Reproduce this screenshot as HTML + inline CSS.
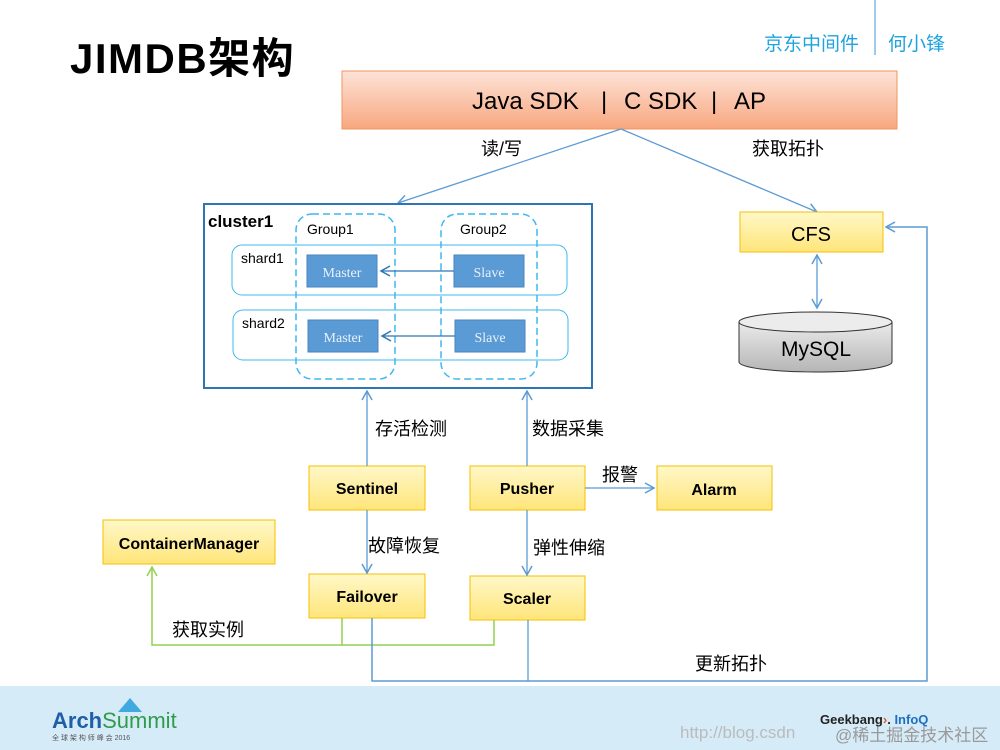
<!DOCTYPE html>
<html><head><meta charset="utf-8"><style>
html,body{margin:0;padding:0;background:#fff;}
svg{display:block;}
text{font-family:"Liberation Sans","Noto Sans CJK SC",sans-serif;}
</style></head><body>
<svg width="1000" height="750" viewBox="0 0 1000 750" xmlns="http://www.w3.org/2000/svg">
<defs>
<linearGradient id="og" x1="0" y1="0" x2="0" y2="1"><stop offset="0" stop-color="#fde3d8"/><stop offset="1" stop-color="#f8a77f"/></linearGradient>
<linearGradient id="yg" x1="0" y1="0" x2="0" y2="1"><stop offset="0" stop-color="#fff8c8"/><stop offset="1" stop-color="#ffe57a"/></linearGradient>
<linearGradient id="gg" x1="0" y1="0" x2="0" y2="1"><stop offset="0" stop-color="#ebebeb"/><stop offset="1" stop-color="#b5b5b5"/></linearGradient>
<marker id="ab" markerWidth="12" markerHeight="12" refX="10" refY="6" orient="auto" markerUnits="userSpaceOnUse"><path d="M1,1 L10,6 L1,11" fill="none" stroke="#5b9bd5" stroke-width="1.5"/></marker>
<marker id="ab2" markerWidth="12" markerHeight="12" refX="10" refY="6" orient="auto" markerUnits="userSpaceOnUse"><path d="M1,1 L10,6 L1,11" fill="none" stroke="#2e75b6" stroke-width="1.5"/></marker>
<marker id="abs" markerWidth="12" markerHeight="12" refX="2" refY="6" orient="auto" markerUnits="userSpaceOnUse"><path d="M11,1 L2,6 L11,11" fill="none" stroke="#5b9bd5" stroke-width="1.5"/></marker>
<marker id="ag" markerWidth="12" markerHeight="12" refX="10" refY="6" orient="auto" markerUnits="userSpaceOnUse"><path d="M1,1 L10,6 L1,11" fill="none" stroke="#92d050" stroke-width="1.5"/></marker>
</defs>

<!-- footer -->
<rect x="0" y="686" width="1000" height="64" fill="#d6ebf8"/>
<text x="52" y="728" font-size="22" font-weight="bold" fill="#1f5fa8">Arch<tspan fill="#2e9c4a" font-weight="normal">Summit</tspan></text>
<path d="M118,712 L130,698 L142,712 Z" fill="#3fa9e0"/>
<text x="52" y="740" font-size="7" fill="#555">全 球 架 构 师 峰 会 2016</text>
<text x="820" y="724" font-size="13" font-weight="bold" fill="#222">Geekbang<tspan fill="#e05a1c">›</tspan>. <tspan fill="#1f6fc0">InfoQ</tspan></text>
<text x="680" y="738" font-size="17" fill="#bbb" font-family="Liberation Mono,monospace">http://blog.csdn</text>
<text x="835" y="741" font-size="17" fill="#999">@稀土掘金技术社区</text>

<!-- title -->
<text x="70" y="73" font-size="42" font-weight="bold" fill="#000" letter-spacing="1.5">JIMDB架构</text>
<text x="764" y="50" font-size="19" fill="#1fa3e0">京东中间件</text>
<line x1="875" y1="0" x2="875" y2="55" stroke="#7fb8e0" stroke-width="1.5"/>
<text x="888" y="50" font-size="19" fill="#1fa3e0">何小锋</text>

<!-- SDK box -->
<rect x="342" y="71" width="555" height="58" fill="url(#og)" stroke="#f0955e" stroke-width="1"/>
<text x="472" y="109" font-size="24" fill="#000">Java SDK</text>
<text x="601" y="109" font-size="24" fill="#000">|</text>
<text x="624" y="109" font-size="24" fill="#000">C SDK</text>
<text x="711" y="109" font-size="24" fill="#000">|</text>
<text x="734" y="109" font-size="24" fill="#000">AP</text>

<line x1="621" y1="129" x2="398" y2="203" stroke="#5b9bd5" stroke-width="1.3" marker-end="url(#ab)"/>
<line x1="621" y1="129" x2="817" y2="212" stroke="#5b9bd5" stroke-width="1.3" marker-end="url(#ab)"/>
<text x="481" y="155" font-size="18">读/写</text>
<text x="752" y="155" font-size="18">获取拓扑</text>

<!-- cluster -->
<rect x="204" y="204" width="388" height="184" fill="#fff" stroke="#2e75b6" stroke-width="2"/>
<text x="208" y="227" font-size="17" font-weight="bold">cluster1</text>
<rect x="232" y="245" width="335" height="50" rx="10" fill="none" stroke="#3fb8ef" stroke-width="1"/>
<rect x="233" y="310" width="335" height="50" rx="10" fill="none" stroke="#3fb8ef" stroke-width="1"/>
<rect x="296" y="214" width="99" height="165" rx="16" fill="none" stroke="#3fb8ef" stroke-width="1.5" stroke-dasharray="7,4"/>
<rect x="441" y="214" width="96" height="165" rx="16" fill="none" stroke="#3fb8ef" stroke-width="1.5" stroke-dasharray="7,4"/>
<text x="307" y="234" font-size="14">Group1</text>
<text x="460" y="234" font-size="14">Group2</text>
<text x="241" y="263" font-size="14">shard1</text>
<text x="242" y="328" font-size="14">shard2</text>
<g font-size="14" fill="#e8f1fb" text-anchor="middle">
<rect x="307" y="255" width="70" height="32" fill="#5b9bd5" stroke="#4a86c0"/><text x="342" y="277" style="font-family:'Liberation Serif',serif">Master</text>
<rect x="454" y="255" width="70" height="32" fill="#5b9bd5" stroke="#4a86c0"/><text x="489" y="277" style="font-family:'Liberation Serif',serif">Slave</text>
<rect x="308" y="320" width="70" height="32" fill="#5b9bd5" stroke="#4a86c0"/><text x="343" y="342" style="font-family:'Liberation Serif',serif">Master</text>
<rect x="455" y="320" width="70" height="32" fill="#5b9bd5" stroke="#4a86c0"/><text x="490" y="342" style="font-family:'Liberation Serif',serif">Slave</text>
</g>
<line x1="454" y1="271" x2="381" y2="271" stroke="#2e75b6" stroke-width="1.3" marker-end="url(#ab2)"/>
<line x1="455" y1="336" x2="382" y2="336" stroke="#2e75b6" stroke-width="1.3" marker-end="url(#ab2)"/>

<!-- CFS / MySQL -->
<rect x="740" y="212" width="143" height="40" fill="url(#yg)" stroke="#f5c000"/>
<text x="811" y="241" font-size="20" text-anchor="middle">CFS</text>
<line x1="817" y1="255" x2="817" y2="308" stroke="#5b9bd5" stroke-width="1.3" marker-start="url(#abs)" marker-end="url(#ab)"/>
<path d="M739,322 L739,362 A76.5,10 0 0 0 892,362 L892,322" fill="url(#gg)" stroke="#333"/>
<ellipse cx="815.5" cy="322" rx="76.5" ry="10" fill="#ececec" stroke="#333"/>
<text x="816" y="356" font-size="21" text-anchor="middle">MySQL</text>

<!-- lower boxes -->
<g font-size="16" font-weight="bold" text-anchor="middle">
<rect x="309" y="466" width="116" height="44" fill="url(#yg)" stroke="#f5c000"/><text x="367" y="494">Sentinel</text>
<rect x="470" y="466" width="115" height="44" fill="url(#yg)" stroke="#f5c000"/><text x="527" y="494">Pusher</text>
<rect x="657" y="466" width="115" height="44" fill="url(#yg)" stroke="#f5c000"/><text x="714" y="495">Alarm</text>
<rect x="103" y="520" width="172" height="44" fill="url(#yg)" stroke="#f5c000"/><text x="189" y="549">ContainerManager</text>
<rect x="309" y="574" width="116" height="44" fill="url(#yg)" stroke="#f5c000"/><text x="367" y="602">Failover</text>
<rect x="470" y="576" width="115" height="44" fill="url(#yg)" stroke="#f5c000"/><text x="527" y="604">Scaler</text>
</g>

<line x1="367" y1="466" x2="367" y2="391" stroke="#5b9bd5" stroke-width="1.3" marker-end="url(#ab)"/>
<line x1="527" y1="466" x2="527" y2="391" stroke="#5b9bd5" stroke-width="1.3" marker-end="url(#ab)"/>
<text x="375" y="435" font-size="18">存活检测</text>
<text x="532" y="435" font-size="18">数据采集</text>
<line x1="585" y1="488" x2="654" y2="488" stroke="#5b9bd5" stroke-width="1.3" marker-end="url(#ab)"/>
<text x="602" y="481" font-size="18">报警</text>
<line x1="367" y1="510" x2="367" y2="573" stroke="#5b9bd5" stroke-width="1.3" marker-end="url(#ab)"/>
<line x1="527" y1="510" x2="527" y2="575" stroke="#5b9bd5" stroke-width="1.3" marker-end="url(#ab)"/>
<text x="368" y="552" font-size="18">故障恢复</text>
<text x="533" y="554" font-size="18">弹性伸缩</text>

<!-- green -->
<polyline points="342,618 342,645 152,645 152,567" fill="none" stroke="#92d050" stroke-width="1.5" marker-end="url(#ag)"/>
<polyline points="494,620 494,645 342,645" fill="none" stroke="#92d050" stroke-width="1.5"/>
<text x="172" y="636" font-size="18">获取实例</text>

<!-- blue update -->
<polyline points="372,618 372,681 927,681 927,227 886,227" fill="none" stroke="#5b9bd5" stroke-width="1.5" marker-end="url(#ab)"/>
<line x1="528" y1="620" x2="528" y2="681" stroke="#5b9bd5" stroke-width="1.3"/>
<text x="695" y="670" font-size="18">更新拓扑</text>
</svg>
</body></html>
